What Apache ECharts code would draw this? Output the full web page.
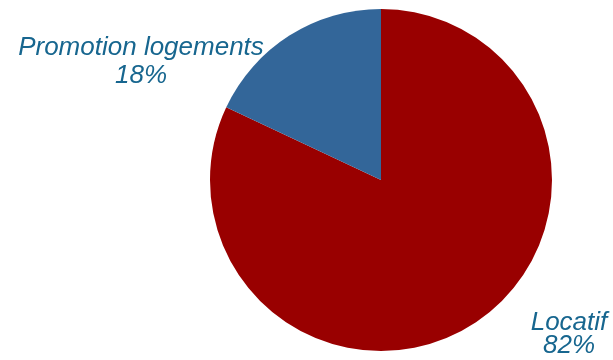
<!DOCTYPE html>
<html><head><meta charset="utf-8">
<script src="https://cdn.jsdelivr.net/npm/echarts@6/dist/echarts.min.js"></script>
<style>html,body{margin:0;padding:0;background:#fff}#c{width:613px;height:360px}</style>
</head><body><div id="c"></div>
<script>
const categories = ["Locatif", "Promotion logements"];
const values = [82, 18];
const colors = ["#990000", "#336699"];
const labelPos = [[569, 334, 23], [141, 62, 28]];

const chart = echarts.init(document.getElementById('c'), null, {renderer: 'canvas'});
chart.setOption({
  animation: false,
  series: [{
    type: 'pie',
    center: [381, 180],
    radius: 171,
    startAngle: 90,
    clockwise: true,
    data: categories.map((n, i) => ({
      name: n, value: values[i],
      itemStyle: {color: colors[i]},
      label: {lineHeight: labelPos[i][2]}
    })),
    label: {
      show: true,
      formatter: p => p.name + '\n' + p.value + '%',
      fontFamily: 'Liberation Sans, Arial, sans-serif',
      fontStyle: 'italic',
      fontSize: 26,
      color: '#17668F',
      align: 'center',
      overflow: 'none',
      width: 400
    },
    labelLine: {show: false},
    labelLayout: p => ({
      x: labelPos[p.dataIndex][0],
      y: labelPos[p.dataIndex][1],
      align: 'center',
      verticalAlign: 'middle'
    }),
    emphasis: {disabled: true}
  }]
});
</script></body></html>
